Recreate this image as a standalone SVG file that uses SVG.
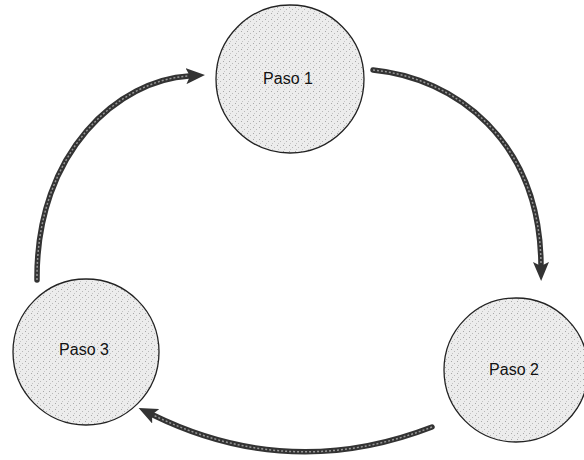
<svg xmlns="http://www.w3.org/2000/svg" width="584" height="460" viewBox="0 0 584 460">
  <style>
    .node circle { fill: url(#stipple); stroke: #222; stroke-width: 1.3; }
    .node text { font-family: "Liberation Sans", Arial, sans-serif; font-size: 16px; fill: #111; text-anchor: middle; dominant-baseline: central; }
    .conn path.outer { fill: none; stroke: #333; stroke-width: 5.5; stroke-linecap: round; }
    .conn path.inner { fill: none; stroke: #999; stroke-width: 1.5; stroke-dasharray: 2 2; stroke-linecap: butt; }
  </style>
  <defs>
    <pattern id="stipple" width="6" height="6" patternUnits="userSpaceOnUse">
      <rect width="6" height="6" fill="#ececec"/>
      <rect x="1" y="1" width="1" height="1" fill="#a8a8a8"/>
      <rect x="4" y="3" width="1" height="1" fill="#b8b8b8"/>
      <rect x="2" y="5" width="1" height="1" fill="#c4c4c4"/>
    </pattern>
    <marker id="head" markerUnits="userSpaceOnUse" viewBox="0 0 19 16" markerWidth="19" markerHeight="16" refX="3" refY="8" orient="auto">
      <path d="M0,0 L19,8 L0,16 L4,8 z" fill="#333"/>
    </marker>
  </defs>

  <g id="connectors" class="conn">
    <g id="edge-1-2">
      <path class="outer" d="M373,70 C455,78 540,140 541,265" marker-end="url(#head)"/>
      <path class="inner" d="M373,70 C455,78 540,140 541,265"/>
    </g>
    <g id="edge-2-3">
      <path class="outer" d="M432,427 Q290,482 153,415" marker-end="url(#head)"/>
      <path class="inner" d="M432,427 Q290,482 153,415"/>
    </g>
    <g id="edge-3-1">
      <path class="outer" d="M37,280 C36,150 120,80 189,76" marker-end="url(#head)"/>
      <path class="inner" d="M37,280 C36,150 120,80 189,76"/>
    </g>
  </g>

  <g id="paso1" class="node">
    <circle cx="290" cy="79" r="74"/>
    <text x="288" y="78">Paso 1</text>
  </g>
  <g id="paso2" class="node">
    <circle cx="516" cy="370" r="72"/>
    <text x="514" y="369">Paso 2</text>
  </g>
  <g id="paso3" class="node">
    <circle cx="86" cy="352" r="73"/>
    <text x="84" y="349">Paso 3</text>
  </g>
</svg>
